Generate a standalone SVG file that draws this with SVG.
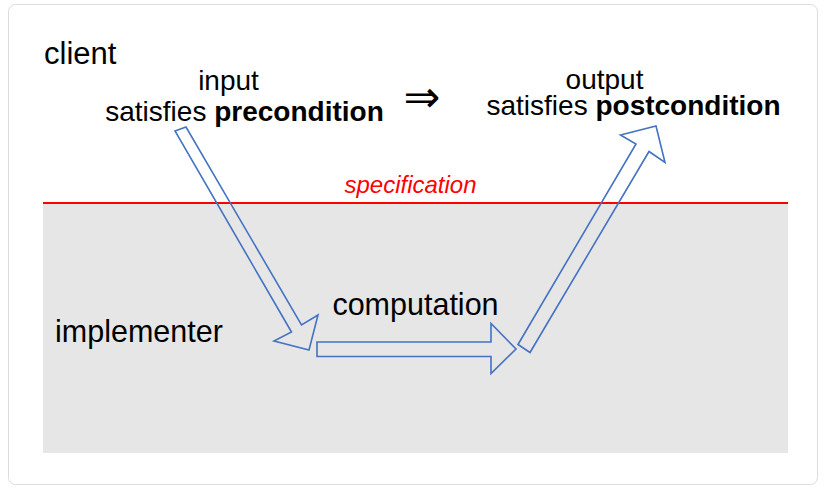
<svg xmlns="http://www.w3.org/2000/svg" width="826" height="495" viewBox="0 0 826 495">
<style>
.t{font-family:"Liberation Sans",Arial,sans-serif;fill:#000}
.arr{fill:none;stroke:#4472c4;stroke-width:1.6;stroke-linejoin:miter}
</style>
<rect x="0" y="0" width="826" height="495" fill="#fff"/>
<rect x="8.5" y="4.5" width="809" height="480" rx="7" fill="#fff" stroke="#dcdcdc" stroke-width="1"/>
<g id="implementer-zone">
<rect x="43" y="203" width="745" height="250" fill="#e6e6e6"/>
<text class="t" x="55" y="342" font-size="30.5">implementer</text>
</g>
<g id="client-zone">
<text class="t" x="44" y="64" font-size="31">client</text>
</g>
<g id="spec">
<line x1="43" y1="203" x2="788" y2="203" stroke="#ff0000" stroke-width="2"/>
<text x="410.5" y="193" font-size="24" text-anchor="middle" font-style="italic" fill="#ff0000" font-family="Liberation Sans,Arial,sans-serif">specification</text>
</g>
<g id="input">
<text class="t" x="228.5" y="89.5" font-size="28" text-anchor="middle">input</text>
<text class="t" x="244.5" y="121" font-size="28" text-anchor="middle">satisfies <tspan font-weight="bold">precondition</tspan></text>
</g>
<g id="implies">
<text x="422" y="112" font-size="44" text-anchor="middle" font-family="DejaVu Sans,sans-serif" fill="#000">⇒</text>
</g>
<g id="output">
<text class="t" x="604.5" y="88.5" font-size="28" text-anchor="middle">output</text>
<text class="t" x="633.5" y="115" font-size="28" text-anchor="middle">satisfies <tspan font-weight="bold">postcondition</tspan></text>
</g>
<g id="computation">
<text class="t" x="415.5" y="314.5" font-size="30.5" text-anchor="middle">computation</text>
</g>
<g id="connectors">
<polygon class="arr" points="175,131 186,127 301.5,325 318,315 309,350 274,341 291.5,332"/>
<polygon class="arr" points="317,342 491,342 491,323.5 516,349 491,373.5 491,356.5 317,356.5"/>
<polygon class="arr" points="518,344.5 636,144 620.5,135 656,126 665,162.5 649,151.5 530,352.5"/>
</g>
</svg>
